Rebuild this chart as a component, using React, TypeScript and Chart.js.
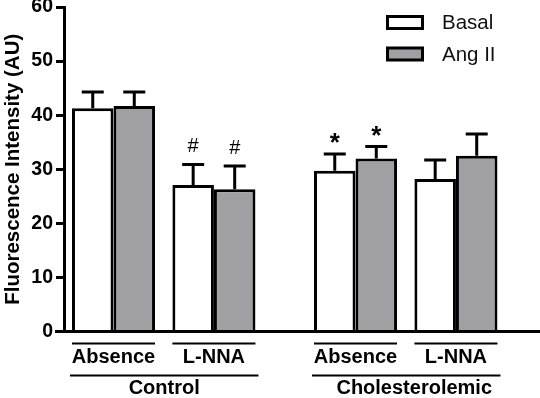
import React, { useEffect, useRef } from "react";
import { Chart, registerables } from "chart.js";

Chart.register(...registerables);

// ---- data ----
const categories = ["Absence", "L-NNA", "Absence", "L-NNA"];
const groupOfCategory = [0, 0, 1, 1];
const groups = ["Control", "Cholesterolemic"];
const seriesNames = ["Basal", "Ang II"];
const basal = [41.3, 27.1, 29.7, 28.2];
const basalErr = [3.0, 3.8, 3.1, 3.5];
const angII = [41.7, 26.3, 32.0, 32.5];
const angIIErr = [2.6, 4.3, 2.2, 4.0];
const basalMarks = ["", "#", "*", ""];
const angIIMarks = ["", "#", "*", ""];
const yTickValues = [0, 10, 20, 30, 40, 50, 60];

// ---- layout / style ----
const GROUP_GAP = 0.41;
const X_MIN = -0.493;
const X_MAX = 4.247;
const FONT = "'Liberation Sans', Arial, sans-serif";
const GRAY = "#a0a0a4";

const positions = categories.map((_, i) => i + groupOfCategory[i] * GROUP_GAP);

const errorBarsPlugin = {
  id: "errorBars",
  afterDatasetsDraw(chart: any) {
    const ctx = chart.ctx;
    const y = chart.scales.y;
    chart.data.datasets.forEach((ds: any, di: number) => {
      const meta = chart.getDatasetMeta(di);
      meta.data.forEach((bar: any, i: number) => {
        const v = ds.data[i].y;
        const e = ds.errors[i];
        const top = y.getPixelForValue(v);
        const capY = y.getPixelForValue(v + e);
        ctx.save();
        ctx.strokeStyle = "#000";
        ctx.lineWidth = 3;
        ctx.beginPath();
        ctx.moveTo(bar.x, top);
        ctx.lineTo(bar.x, capY);
        ctx.moveTo(bar.x - 11, capY);
        ctx.lineTo(bar.x + 11, capY);
        ctx.stroke();
        const m = ds.marks[i];
        if (m) {
          ctx.fillStyle = "#000";
          ctx.textAlign = "center";
          if (m === "*") {
            ctx.font = `bold 26px ${FONT}`;
            ctx.textBaseline = "alphabetic";
            ctx.fillText(m, bar.x, capY - 18 + 15);
          } else {
            ctx.font = `20px ${FONT}`;
            ctx.textBaseline = "middle";
            ctx.fillText(m, bar.x, capY - 18);
          }
        }
        ctx.restore();
      });
    });
  },
};

const decorPlugin = {
  id: "decor",
  afterDraw(chart: any) {
    const ctx = chart.ctx;
    const area = chart.chartArea;
    ctx.save();
    // x axis extension to the left of the y axis
    ctx.strokeStyle = "#000";
    ctx.lineWidth = 3;
    ctx.beginPath();
    ctx.moveTo(55, area.bottom);
    ctx.lineTo(area.left, area.bottom);
    ctx.stroke();

    // category lines and group labels
    const m0 = chart.getDatasetMeta(0);
    const m1 = chart.getDatasetMeta(1);
    const catLeft = categories.map((_, i) => m0.data[i].x - m0.data[i].width / 2);
    const catRight = categories.map((_, i) => m1.data[i].x + m1.data[i].width / 2);
    ctx.lineWidth = 2;
    const subY = area.bottom + 12;
    categories.forEach((_, i) => {
      ctx.beginPath();
      ctx.moveTo(catLeft[i], subY);
      ctx.lineTo(catRight[i], subY);
      ctx.stroke();
    });
    const grpY = area.bottom + 44;
    ctx.font = `bold 20px ${FONT}`;
    ctx.fillStyle = "#000";
    ctx.textAlign = "center";
    ctx.textBaseline = "middle";
    groups.forEach((g, gi) => {
      const idx = groupOfCategory.map((v, i) => (v === gi ? i : -1)).filter((i) => i >= 0);
      const l = catLeft[idx[0]] - 2;
      const r = catRight[idx[idx.length - 1]] + 3;
      ctx.beginPath();
      ctx.moveTo(l, grpY);
      ctx.lineTo(r, grpY);
      ctx.stroke();
      ctx.fillText(g, (l + r) / 2 + (gi === 1 ? 8 : 0), grpY + 13);
    });

    // legend
    chart.data.datasets.forEach((ds: any, di: number) => {
      const bx = 387.5;
      const by = 16.5 + di * 31.5;
      ctx.fillStyle = ds.backgroundColor;
      ctx.fillRect(bx, by, 35, 12);
      ctx.lineWidth = 3;
      ctx.strokeStyle = "#000";
      ctx.strokeRect(bx, by, 35, 12);
      ctx.fillStyle = "#111";
      ctx.font = `20.5px ${FONT}`;
      ctx.textAlign = "left";
      ctx.textBaseline = "middle";
      ctx.fillText(ds.label, 442, by + 7);
    });
    ctx.restore();
  },
};

export default function App() {
  const ref = useRef<HTMLCanvasElement | null>(null);
  useEffect(() => {
    if (!ref.current) return;
    const mk = (vals: number[]) => vals.map((v, i) => ({ x: positions[i], y: v }));
    const chart = new Chart(ref.current, {
      type: "bar",
      data: {
        datasets: [
          {
            label: seriesNames[0],
            data: mk(basal),
            backgroundColor: "#ffffff",
            borderColor: "#000000",
            borderWidth: 3,
            categoryPercentage: 0.827,
            barPercentage: 1,
            errors: basalErr,
            marks: basalMarks,
          } as any,
          {
            label: seriesNames[1],
            data: mk(angII),
            backgroundColor: GRAY,
            borderColor: "#000000",
            borderWidth: 3,
            categoryPercentage: 0.827,
            barPercentage: 1,
            errors: angIIErr,
            marks: angIIMarks,
          } as any,
        ],
      },
      options: {
        responsive: false,
        animation: false,
        layout: { padding: 0 },
        plugins: {
          legend: { display: false },
          tooltip: { enabled: false },
        },
        scales: {
          x: {
            type: "linear",
            min: X_MIN,
            max: X_MAX,
            offset: false,
            grid: { display: false },
            border: { display: true, width: 3, color: "#000" },
            afterBuildTicks: (scale: any) => {
              scale.ticks = positions.map((p) => ({ value: p }));
            },
            afterFit: (scale: any) => {
              scale.height = 66.5;
              scale.paddingLeft = 0;
              scale.paddingRight = 0;
            },
            ticks: {
              autoSkip: false,
              maxRotation: 0,
              padding: 6,
              color: "#000",
              font: { family: FONT, size: 20, weight: "bold" },
              callback: (_v: any, i: number) => categories[i],
            },
          },
          y: {
            min: 0,
            max: 60,
            afterBuildTicks: (scale: any) => {
              scale.ticks = yTickValues.map((v) => ({ value: v }));
            },
            afterFit: (scale: any) => {
              scale.width = 64;
              scale.paddingTop = 7;
              scale.paddingBottom = 0;
            },
            grid: {
              display: true,
              drawOnChartArea: false,
              drawTicks: true,
              tickLength: 8,
              lineWidth: 3,
              color: "#000",
            },
            border: { display: true, width: 3, color: "#000" },
            ticks: {
              padding: 3,
              color: "#000",
              font: { family: FONT, size: 19.5, weight: "bold" },
            },
            title: {
              display: true,
              text: "Fluorescence Intensity (AU)",
              color: "#000",
              font: { family: FONT, size: 20.5, weight: "bold" },
              padding: { top: 1, bottom: 0 },
            },
          },
        },
      } as any,
      plugins: [errorBarsPlugin, decorPlugin],
    });
    return () => chart.destroy();
  }, []);
  return (
    <div style={{ position: "absolute", left: 0, top: 0, width: 540, height: 398, background: "#fff" }}>
      <canvas ref={ref} width={540} height={398} />
    </div>
  );
}
